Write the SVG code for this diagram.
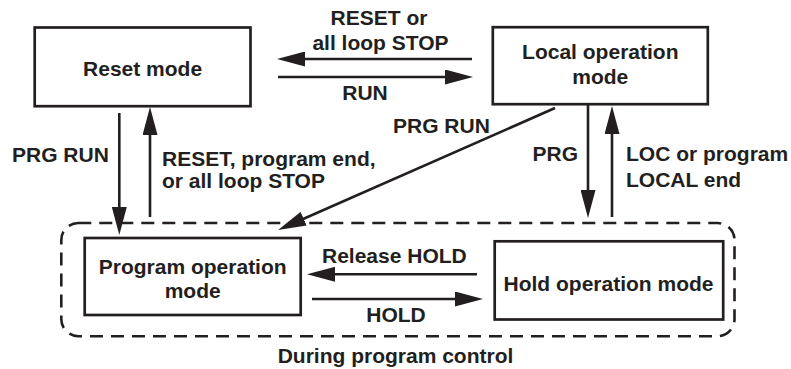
<svg xmlns="http://www.w3.org/2000/svg" width="791" height="369" viewBox="0 0 791 369">
<style>
.box{fill:#fff;stroke:#231f20;stroke-width:2.7}
.t{font-family:"Liberation Sans",Arial,sans-serif;font-weight:bold;font-size:21px;fill:#231f20}
.c{text-anchor:middle}
.e{text-anchor:end}
.ln{stroke:#231f20;stroke-width:2.6;fill:none}
.arr{marker-end:url(#ah)}
.dash{fill:none;stroke:#231f20;stroke-width:2.6;stroke-dasharray:13 8}
</style>
<defs>
<marker id="ah" markerUnits="userSpaceOnUse" markerWidth="28" markerHeight="15" refX="18" refY="7.5" orient="auto" viewBox="0 0 28 15">
<path d="M0,0 L28,7.5 L0,15 z" fill="#231f20"/>
</marker>
</defs>
<rect width="791" height="369" fill="#fff"/>
<g id="program-control">
<rect class="dash" x="61.3" y="223" width="673.2" height="113.2" rx="17"/>
<text class="t c" x="395.5" y="363">During program control</text>
</g>
<g id="reset-mode">
<rect class="box" x="34.7" y="27.5" width="215.8" height="78.7"/>
<text class="t c" x="142.6" y="76">Reset mode</text>
</g>
<g id="local-mode">
<rect class="box" x="492.8" y="27.2" width="215" height="77"/>
<text class="t c" x="600.3" y="59">Local operation</text>
<text class="t c" x="600.3" y="84">mode</text>
</g>
<g id="program-mode">
<rect class="box" x="84.7" y="238" width="216" height="77"/>
<text class="t c" x="192.7" y="274">Program operation</text>
<text class="t c" x="192.7" y="298">mode</text>
</g>
<g id="hold-mode">
<rect class="box" x="494.7" y="241.3" width="228.5" height="78.2"/>
<text class="t c" x="608.5" y="290.5">Hold operation mode</text>
</g>
<g id="connectors">
<line class="ln arr" x1="472" y1="59" x2="287" y2="59"/>
<line class="ln arr" x1="278" y1="77" x2="463" y2="77"/>
<line class="ln arr" x1="477" y1="274.3" x2="317" y2="274.3"/>
<line class="ln arr" x1="312" y1="299" x2="473" y2="299"/>
<line class="ln arr" x1="119.3" y1="113" x2="119.3" y2="225"/>
<line class="ln arr" x1="150" y1="217" x2="150" y2="117"/>
<line class="ln arr" x1="588" y1="104.5" x2="588" y2="208"/>
<line class="ln arr" x1="612" y1="217" x2="612" y2="116"/>
<line class="ln arr" x1="555" y1="108" x2="287.2" y2="226"/>
<text class="t c" x="379" y="25">RESET or</text>
<text class="t c" x="380.5" y="50">all loop STOP</text>
<text class="t c" x="365" y="100">RUN</text>
<text class="t" x="12" y="162">PRG RUN</text>
<text class="t" x="162" y="166">RESET, program end,</text>
<text class="t" x="162" y="188">or all loop STOP</text>
<text class="t" x="393" y="133">PRG RUN</text>
<text class="t e" x="578" y="161">PRG</text>
<text class="t" x="626" y="161">LOC or program</text>
<text class="t" x="626" y="187">LOCAL end</text>
<text class="t" x="322" y="263">Release HOLD</text>
<text class="t c" x="396" y="321.5">HOLD</text>
</g>
</svg>
